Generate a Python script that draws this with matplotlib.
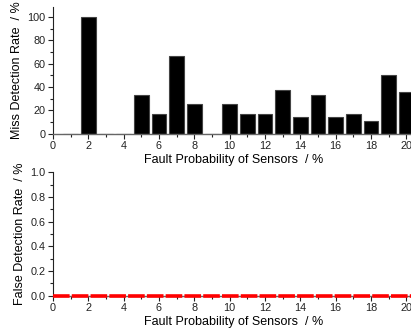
import numpy as np
import matplotlib
matplotlib.use("Agg")
import matplotlib.pyplot as plt
from matplotlib.ticker import MultipleLocator

plt.rcParams['font.family'] = ['Liberation Sans', 'DejaVu Sans']

fault_prob = list(range(1, 21))
miss_rate = [0, 100, 0, 0, 33.3, 16.7, 66.7, 25, 0, 25,
             16.7, 16.7, 37.5, 14.3, 33.3, 14.3, 16.7, 11.1, 50, 35.7]
false_x = [0, 20.5]
false_rate = [0, 0]

fig = plt.figure(figsize=(4.11, 3.29), dpi=100)
ax1 = fig.add_axes([0.129, 0.594, 0.881, 0.384])
ax2 = fig.add_axes([0.129, 0.101, 0.881, 0.375])

ax1.bar(fault_prob, miss_rate, width=0.82, color='black', edgecolor='#444444', linewidth=0.8)
ax1.set_xlim(0, 20.5)
ax1.set_ylim(0, 108.5)
ax1.yaxis.set_major_locator(MultipleLocator(20))
ax1.yaxis.set_minor_locator(MultipleLocator(10))
ax1.set_ylabel('Miss Detection Rate  / %', fontsize=9, labelpad=3)
ax1.set_xlabel('Fault Probability of Sensors  / %', fontsize=9, labelpad=2)

ax2.plot(false_x, false_rate, color='red', linewidth=2.6, dashes=(4.6, 0.6), clip_on=False, zorder=5)
ax2.set_xlim(0, 20.5)
ax2.set_ylim(0, 1.0)
ax2.yaxis.set_major_locator(MultipleLocator(0.2))
ax2.yaxis.set_minor_locator(MultipleLocator(0.1))
ax2.yaxis.set_major_formatter(matplotlib.ticker.FormatStrFormatter('%.1f'))
ax2.set_ylabel('False Detection Rate  / %', fontsize=9, labelpad=3)
ax2.set_xlabel('Fault Probability of Sensors  / %', fontsize=9, labelpad=2)

for ax in (ax1, ax2):
    ax.xaxis.set_major_locator(MultipleLocator(2))
    ax.xaxis.set_minor_locator(MultipleLocator(1))
    ax.spines['top'].set_visible(False)
    ax.spines['right'].set_visible(False)
    ax.spines['left'].set_color('#222222')
    ax.spines['bottom'].set_color('#666666')
    ax.spines['left'].set_linewidth(0.8)
    ax.spines['bottom'].set_linewidth(1.0)
    ax.tick_params(which='major', direction='out', length=3.5, width=0.8, labelsize=7.8, pad=2, colors='#222222')
    ax.tick_params(which='minor', direction='out', length=2, width=0.8, colors='#222222')

fig.savefig('out.png', dpi=100)
